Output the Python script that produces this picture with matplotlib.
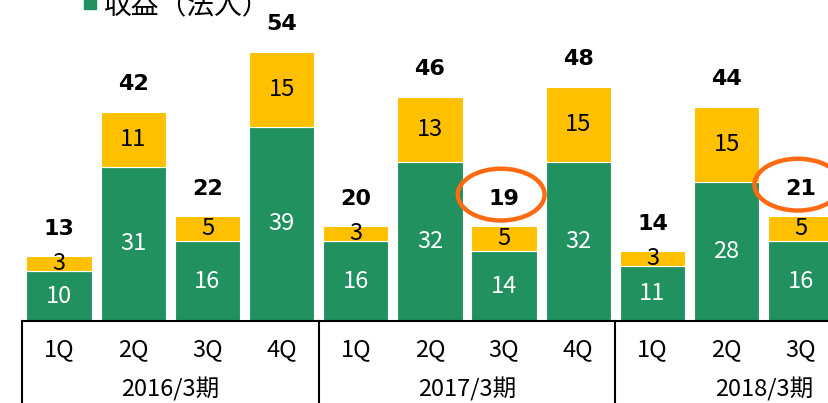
import matplotlib.pyplot as plt
import matplotlib.transforms as mtransforms
from matplotlib.patches import Ellipse, Rectangle

plt.rcParams['font.family'] = ['Noto Sans CJK JP', 'DejaVu Sans']

quarters = ['1Q', '2Q', '3Q', '4Q', '1Q', '2Q', '3Q', '4Q', '1Q', '2Q', '3Q']
years = ['2016/3期', '2017/3期', '2018/3期']
green_vals = [10, 31, 16, 39, 16, 32, 14, 32, 11, 28, 16]
yellow_vals = [3, 11, 5, 15, 3, 13, 5, 15, 3, 15, 5]
totals = [13, 42, 22, 54, 20, 46, 19, 48, 14, 44, 21]
circled = [6, 10]

GREEN = '#21925f'
YELLOW = '#ffc000'
ORANGE = '#ff6a13'

fig = plt.figure(figsize=(8.29, 4.03), dpi=100)
ax = fig.add_axes([22 / 829, 82 / 403, 807 / 829, 321 / 403])

x = list(range(len(quarters)))
ax.bar(x, green_vals, width=0.88, color=GREEN, edgecolor='white', linewidth=0.8)
ax.bar(x, yellow_vals, width=0.88, bottom=green_vals, color=YELLOW, edgecolor='white', linewidth=0.8)

for i in x:
    ax.text(i, green_vals[i] / 2, str(green_vals[i]), ha='center', va='center',
            color='white', fontsize=17)
    ax.text(i, green_vals[i] + yellow_vals[i] / 2, str(yellow_vals[i]), ha='center',
            va='center', color='black', fontsize=17)
    ax.annotate(str(totals[i]), (i, green_vals[i] + yellow_vals[i]), xytext=(0, 20),
                textcoords='offset points', ha='center', va='center',
                fontsize=16, fontweight='bold', fontfamily=['DejaVu Sans'])

for i in circled:
    ax.add_patch(Ellipse((i - 0.04, green_vals[i] + yellow_vals[i] + 6.4), 1.17, 10.4,
                         fill=False, edgecolor=ORANGE, linewidth=3.2, clip_on=False))

ax.set_xlim(-0.5, 10.38)
ax.set_ylim(0, 64.5)
ax.set_xticks([])
ax.set_yticks([])
for s in ['top', 'right', 'left']:
    ax.spines[s].set_visible(False)
ax.spines['bottom'].set_linewidth(1.5)

trans = mtransforms.blended_transform_factory(ax.transData, ax.transAxes)
for xs in [-0.5, 3.5, 7.5]:
    ax.plot([xs, xs], [0, -0.26], color='black', lw=1.5, transform=trans, clip_on=False)

for i, q in enumerate(quarters):
    ax.text(i, -0.088, q, ha='center', va='center', fontsize=17, transform=trans)
for k, y in enumerate(years):
    ax.text(1.5 + 4 * k, -0.212, y, ha='center', va='center', fontsize=17, transform=trans)

# legend (cut off at the top of the picture)
fig.patches.append(Rectangle((84 / 829, 1 - 9 / 403), 12 / 829, 14 / 403,
                             transform=fig.transFigure, color=GREEN))
fig.text(103 / 829, 1 - 6 / 403, '収益（法人）', ha='left', va='center', fontsize=20)

fig.savefig('out.png', dpi=100)
